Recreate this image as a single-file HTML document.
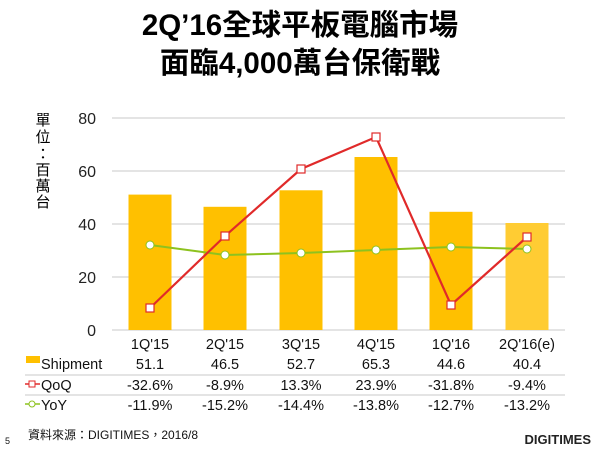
<!DOCTYPE html>
<html><head><meta charset="utf-8"><style>
body{margin:0;background:#fff;}
svg text{font-family:"Liberation Sans","Noto Sans CJK TC",sans-serif;}
</style></head><body>
<svg width="600" height="450" viewBox="0 0 600 450" xmlns="http://www.w3.org/2000/svg">
<text x="300" y="35" font-size="29.5" font-weight="bold" text-anchor="middle">2Q’16全球平板電腦市場</text>
<text x="300" y="73" font-size="29.5" font-weight="bold" text-anchor="middle">面臨4,000萬台保衛戰</text>
<g font-size="15" fill="#000">
<text x="43" y="125" text-anchor="middle">單</text>
<text x="43" y="142" text-anchor="middle">位</text>
<text x="43" y="159" text-anchor="middle">：</text>
<text x="43" y="175" text-anchor="middle">百</text>
<text x="43" y="191" text-anchor="middle">萬</text>
<text x="43" y="207" text-anchor="middle">台</text>
</g>
<g stroke="#c8c8c8" stroke-width="1">
<line x1="112" y1="118" x2="565" y2="118"/>
<line x1="112" y1="171" x2="565" y2="171"/>
<line x1="112" y1="224" x2="565" y2="224"/>
<line x1="112" y1="277" x2="565" y2="277"/>
<line x1="112" y1="330" x2="565" y2="330"/>
</g>
<g font-size="16" text-anchor="end" fill="#222">
<text x="96" y="124">80</text><text x="96" y="177">60</text><text x="96" y="230">40</text><text x="96" y="283">20</text><text x="96" y="336">0</text>
</g>
<g fill="#FFC000">
<rect x="128.5" y="194.6" width="43" height="135.4"/>
<rect x="203.5" y="206.8" width="43" height="123.2"/>
<rect x="279.5" y="190.3" width="43" height="139.7"/>
<rect x="354.5" y="157" width="43" height="173"/>
<rect x="429.5" y="211.8" width="43" height="118.2"/>
<rect x="505.5" y="223" width="43" height="107" fill="#FFCC33"/>
</g>
<polyline points="150,245 225,255 301,253 376,250 451,247 527,249" fill="none" stroke="#8DC21F" stroke-width="2"/>
<g fill="#fff" stroke="#8DC21F" stroke-width="1">
<circle cx="150" cy="245" r="4"/><circle cx="225" cy="255" r="4"/><circle cx="301" cy="253" r="4"/><circle cx="376" cy="250" r="4"/><circle cx="451" cy="247" r="4"/><circle cx="527" cy="249" r="4"/>
</g>
<polyline points="150,308 225,236 301,169 376,137 451,305 527,237" fill="none" stroke="#E02A2A" stroke-width="2.2"/>
<g fill="#fff" stroke="#E02A2A" stroke-width="1.2">
<rect x="146" y="304" width="8" height="8"/><rect x="221" y="232" width="8" height="8"/><rect x="297" y="165" width="8" height="8"/><rect x="372" y="133" width="8" height="8"/><rect x="447" y="301" width="8" height="8"/><rect x="523" y="233" width="8" height="8"/>
</g>
<g font-size="14.5" text-anchor="middle" fill="#111">
<text x="150" y="349">1Q'15</text><text x="225" y="349">2Q'15</text><text x="301" y="349">3Q'15</text><text x="376" y="349">4Q'15</text><text x="451" y="349">1Q'16</text><text x="527" y="349">2Q'16(e)</text>
<text x="150" y="369">51.1</text><text x="225" y="369">46.5</text><text x="301" y="369">52.7</text><text x="376" y="369">65.3</text><text x="451" y="369">44.6</text><text x="527" y="369">40.4</text>
<text x="150" y="390">-32.6%</text><text x="225" y="390">-8.9%</text><text x="301" y="390">13.3%</text><text x="376" y="390">23.9%</text><text x="451" y="390">-31.8%</text><text x="527" y="390">-9.4%</text>
<text x="150" y="410">-11.9%</text><text x="225" y="410">-15.2%</text><text x="301" y="410">-14.4%</text><text x="376" y="410">-13.8%</text><text x="451" y="410">-12.7%</text><text x="527" y="410">-13.2%</text>
</g>
<g stroke="#c8c8c8"><line x1="25" y1="375" x2="565" y2="375"/><line x1="25" y1="395" x2="565" y2="395"/></g>
<rect x="26" y="356" width="14" height="7" fill="#FFC000"/>
<g font-size="14.5" fill="#111"><text x="41" y="369">Shipment</text><text x="41" y="390">QoQ</text><text x="41" y="410">YoY</text></g>
<line x1="25" y1="384" x2="40" y2="384" stroke="#E02A2A" stroke-width="1.5"/><rect x="29" y="381" width="6" height="6" fill="#fff" stroke="#E02A2A"/>
<line x1="25" y1="404" x2="40" y2="404" stroke="#8DC21F" stroke-width="1.5"/><circle cx="32" cy="404" r="3" fill="#fff" stroke="#8DC21F"/>
<text x="28" y="439" font-size="12" fill="#111">資料來源：DIGITIMES，2016/8</text>
<text x="5" y="444" font-size="9" fill="#111">5</text>
<text x="591" y="444" font-size="13" font-weight="bold" text-anchor="end" fill="#222">DIGITIMES</text>
</svg>
</body></html>
